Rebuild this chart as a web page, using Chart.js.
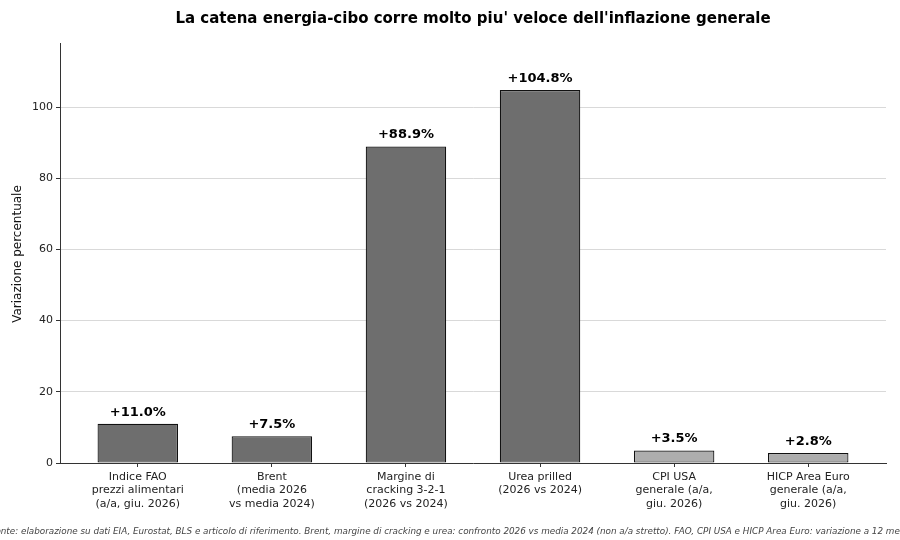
<!DOCTYPE html>
<html>
<head>
<meta charset="utf-8">
<script src="https://cdn.jsdelivr.net/npm/chart.js@4.4.1/dist/chart.umd.min.js"></script>
<style>
  html, body { margin: 0; padding: 0; background: #fff; }
  #wrap { width: 900px; height: 540px; }
</style>
</head>
<body>
<div id="wrap"><canvas id="c" width="900" height="540"></canvas></div>
<script>
const categories = [
  ["Indice FAO", "prezzi alimentari", "(a/a, giu. 2026)"],
  ["Brent", "(media 2026", "vs media 2024)"],
  ["Margine di", "cracking 3-2-1", "(2026 vs 2024)"],
  ["Urea prilled", "(2026 vs 2024)"],
  ["CPI USA", "generale (a/a,", "giu. 2026)"],
  ["HICP Area Euro", "generale (a/a,", "giu. 2026)"]
];
const values = [11.0, 7.5, 88.9, 104.8, 3.5, 2.8];
const barColors = ["#6e6e6e", "#6e6e6e", "#6e6e6e", "#6e6e6e", "#adadad", "#adadad"];
const yTicks = [0, 20, 40, 60, 80, 100];
const titleText = "La catena energia-cibo corre molto piu' veloce dell'inflazione generale";
const yLabel = "Variazione percentuale";
const sourceText = "Fonte: elaborazione su dati EIA, Eurostat, BLS e articolo di riferimento. Brent, margine di cracking e urea: confronto 2026 vs media 2024 (non a/a stretto). FAO, CPI USA e HICP Area Euro: variazione a 12 mesi.";

const FONT = "'DejaVu Sans', sans-serif";

const extras = {
  id: 'extras',
  afterDatasetsDraw(chart) {
    const ctx = chart.ctx;
    const meta = chart.getDatasetMeta(0);
    ctx.save();
    ctx.fillStyle = '#000';
    ctx.font = "bold 13px " + FONT;
    ctx.textAlign = 'center';
    ctx.textBaseline = 'bottom';
    meta.data.forEach((bar, i) => {
      ctx.fillText('+' + values[i].toFixed(1) + '%', bar.x, bar.y - 5);
    });
    ctx.restore();
  },
  afterDraw(chart) {
    const ctx = chart.ctx;
    const a = chart.chartArea;
    ctx.save();
    ctx.fillStyle = '#000';
    ctx.font = "bold 15px " + FONT;
    ctx.textAlign = 'center';
    ctx.textBaseline = 'middle';
    ctx.fillText(titleText, (a.left + a.right) / 2, 19);
    ctx.font = "12px " + FONT;
    ctx.translate(18, (a.top + a.bottom) / 2 + 1);
    ctx.rotate(-Math.PI / 2);
    ctx.fillStyle = '#111';
    ctx.fillText(yLabel, 0, 0);
    ctx.restore();
    ctx.save();
    ctx.font = "italic 8.8px " + FONT;
    ctx.fillStyle = '#444';
    ctx.textAlign = 'center';
    ctx.textBaseline = 'middle';
    ctx.fillText(sourceText, 450, 532);
    ctx.restore();
  }
};

new Chart(document.getElementById('c'), {
  type: 'bar',
  data: {
    datasets: [{
      data: values.map((v, i) => ({ x: i, y: v })),
      backgroundColor: barColors,
      borderColor: '#111',
      borderWidth: 1.2,
      borderSkipped: false,
      barPercentage: 0.6,
      categoryPercentage: 1.0
    }]
  },
  plugins: [extras],
  options: {
    responsive: false,
    animation: false,
    devicePixelRatio: 1,
    layout: { padding: { top: 43, right: 14, bottom: 0, left: 0 } },
    plugins: { legend: { display: false }, tooltip: { enabled: false }, title: { display: false } },
    scales: {
      x: {
        type: 'linear',
        min: -0.58,
        max: 5.58,
        offset: false,
        afterBuildTicks(scale) { scale.ticks = categories.map((_, i) => ({ value: i })); },
        afterFit(scale) { scale.height = 77; },
        grid: { offset: false, drawOnChartArea: false, drawTicks: true, tickLength: 4, tickColor: '#333', tickWidth: 1 },
        border: { display: true, color: '#333', width: 1 },
        ticks: {
          autoSkip: false,
          maxRotation: 0,
          padding: 3,
          color: '#222',
          font: { family: FONT, size: 11, lineHeight: 1.25 },
          callback: (v) => categories[v] || ''
        }
      },
      y: {
        min: 0,
        max: 118,
        afterBuildTicks(scale) { scale.ticks = yTicks.map(v => ({ value: v })); },
        afterFit(scale) { scale.width = 60; },
        grid: {
          color: '#cfcfcf',
          lineWidth: 0.8,
          borderDash: [1, 2.5],
          drawTicks: true,
          tickLength: 4,
          tickColor: '#333',
          tickBorderDash: [],
          tickWidth: 1
        },
        border: { display: true, color: '#333', width: 1 },
        ticks: {
          padding: 3,
          color: '#222',
          font: { family: FONT, size: 11 },
          callback: (v) => String(v)
        }
      }
    }
  }
});
</script>
</body>
</html>
